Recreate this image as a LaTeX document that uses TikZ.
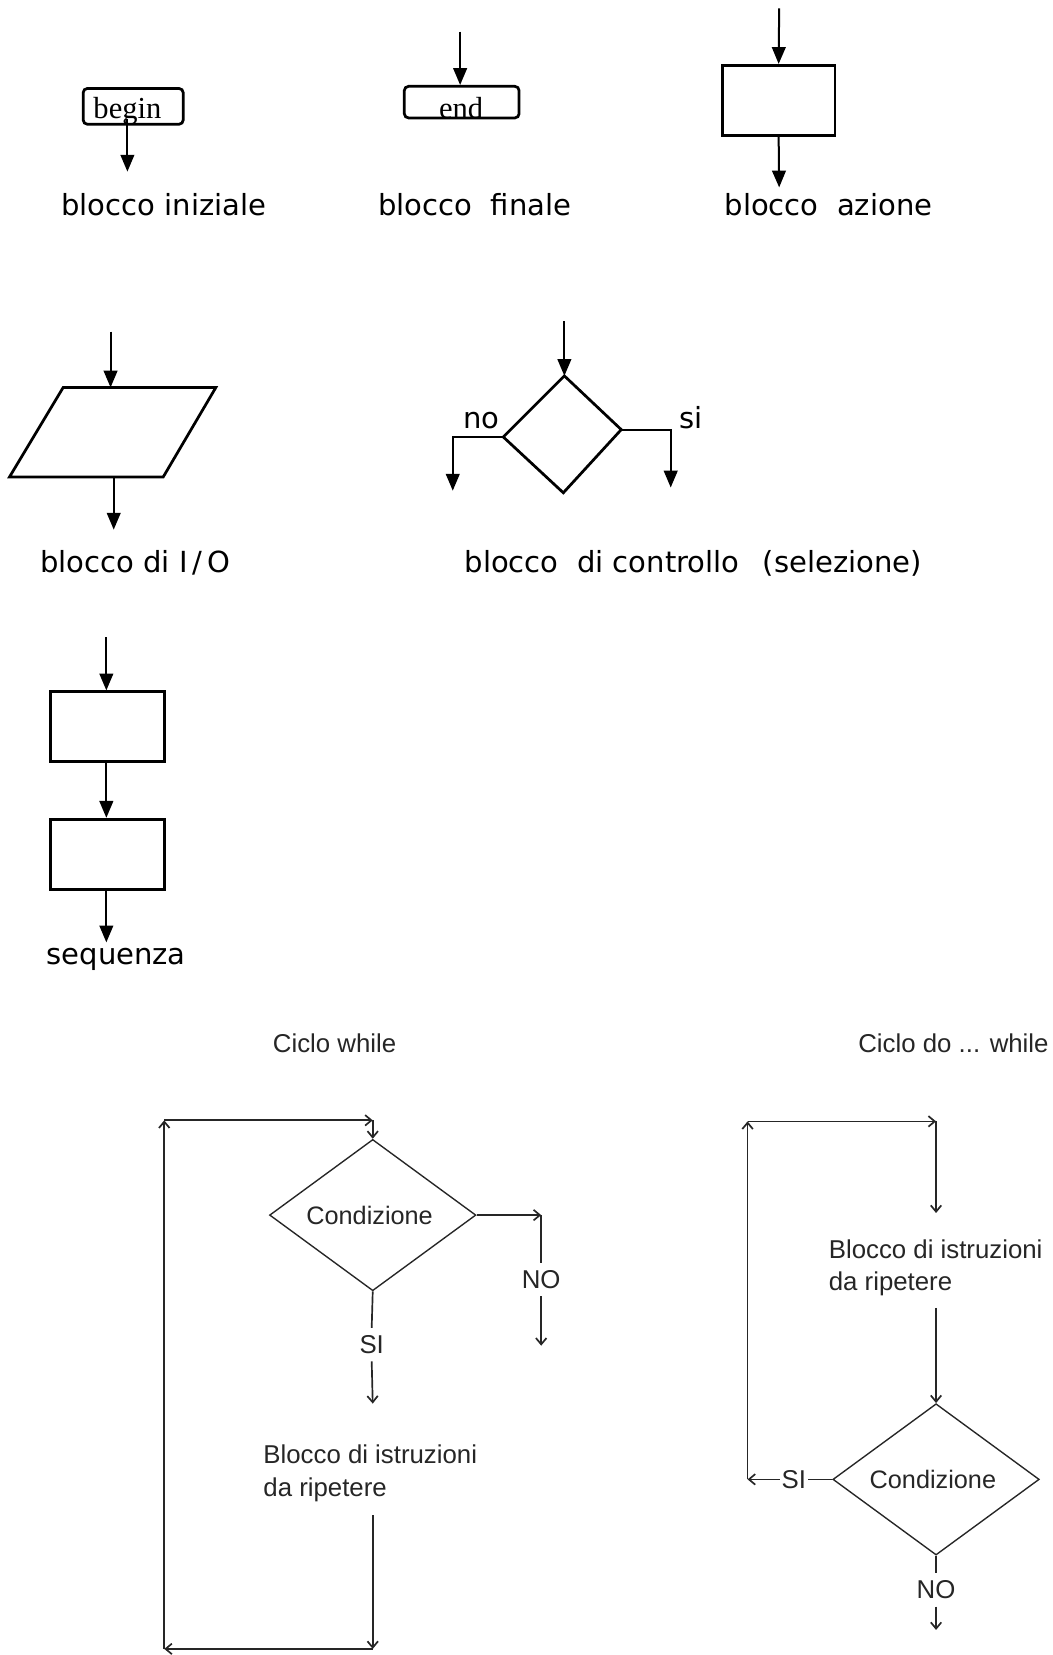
\documentclass[tikz,border=0pt]{standalone}
\usepackage{fontspec}
\usetikzlibrary{arrows.meta,shapes.geometric}
\newfontfamily\vfont{DejaVu Sans}
\newfontfamily\tfont{Liberation Serif}
\newfontfamily\mfont{Liberation Sans}
\begin{document}
\begin{tikzpicture}[x=1pt,y=-1pt,
  bigarr/.style={-{Triangle[width=13pt,length=16pt]},line width=1.9pt},
  thickline/.style={line width=2.6pt},
  actbox/.style={draw,line width=2.6pt,minimum width=107pt,minimum height=67pt,inner sep=0pt},
  lbl/.style={font=\vfont\fontsize{27.6}{32}\selectfont,inner sep=0pt,anchor=base west},
  tlbl/.style={font=\tfont\fontsize{29}{32}\selectfont,inner sep=0pt,anchor=base},
  gline/.style={line width=1.6pt,draw=black!85},
  sarr/.style={gline,-{Straight Barb[length=6pt,width=10pt]}},
  cond/.style={diamond,draw=black!85,line width=1.3pt,minimum width=196pt,minimum height=143pt,inner sep=0pt,
    font=\mfont\fontsize{24}{29}\selectfont,text=black!85},
  mtxt/.style={font=\mfont\fontsize{24.5}{31}\selectfont,text=black!85,inner sep=0pt},
  ynlbl/.style={mtxt,inner xsep=1.5pt,inner ysep=7pt}
]
\fill[white] (0,0) rectangle (1000,1568);

% ---------- blocco iniziale ----------
\node[draw,thickline,rounded corners=4pt,minimum width=95pt,minimum height=34pt,inner sep=0pt] (beginbox) at (126.5,101) {};
\node[tlbl] (begintxt) at (121,113) {begin};
\coordinate (beginout) at (121,163);
\draw[bigarr] (begintxt.base) -- (beginout);
\node[lbl] (l1) at (58,205) {blocco iniziale};

% ---------- blocco finale ----------
\node[draw,thickline,rounded corners=4pt,minimum width=109pt,minimum height=30pt,inner sep=0pt] (endbox) at (438.5,97) {};
\node[tlbl] (endtxt) at (438,113) {end};
\coordinate (endin) at (437,30);
\draw[bigarr] (endin) -- (endin |- endbox.north);
\node[lbl] (l2) at (359,205) {blocco\ \ finale};

% ---------- blocco azione ----------
\node[actbox] (act) at (739.5,95.5) {};
\coordinate (actin) at (740,8);
\coordinate (actout) at (740,178);
\draw[bigarr] (actin) -- (act.north);
\draw[bigarr] (act.south) -- (actout);
\node[lbl] (l3) at (688,205) {blocco\ \ azione};

% ---------- blocco I/O ----------
\coordinate (ioTL) at (60,368);
\coordinate (ioTR) at (205,368);
\coordinate (ioBR) at (155,453);
\coordinate (ioBL) at (9,453);
\draw[thickline,line join=miter] (ioTL) -- (ioTR) -- (ioBR) -- (ioBL) -- cycle;
\coordinate (ioin) at (105,315);
\coordinate (ioout) at (108,503);
\draw[bigarr] (ioin) -- (ioin |- ioTL);
\draw[bigarr] (ioout |- ioBL) -- (ioout);
\node[lbl] (l4) at (38,544) {blocco di I\,/\,O};

% ---------- blocco di controllo ----------
\coordinate (sT) at (536,357);
\coordinate (sL) at (478,415);
\coordinate (sR) at (590,408);
\coordinate (sB) at (535,468);
\draw[thickline,line join=miter] (sT) -- (sR) -- (sB) -- (sL) -- cycle;
\coordinate (selin) at (536,305);
\draw[bigarr] (selin) -- (sT);
\coordinate (noout) at (430,466);
\coordinate (siout) at (637,463);
\draw[bigarr] (sL) -| (noout);
\draw[bigarr] (sR) -| (siout);
\node[lbl] (nolbl) at (440,407) {no};
\node[lbl] (silbl) at (645,407) {si};
\node[lbl] (l5) at (441,544) {blocco\ \ di controllo\ \ \,(selezione)};

% ---------- sequenza ----------
\node[draw,line width=2.6pt,minimum width=108pt,minimum height=66pt,inner sep=0pt] (seq1) at (102,690) {};
\node[draw,line width=2.6pt,minimum width=108pt,minimum height=67pt,inner sep=0pt] (seq2) at (102,811.5) {};
\coordinate (seqin) at (101,605);
\coordinate (seqout) at (101,895);
\draw[bigarr] (seqin) -- (seqin |- seq1.north);
\draw[bigarr] (seqin |- seq1.south) -- (seqin |- seq2.north);
\draw[bigarr] (seqin |- seq2.south) -- (seqout);
\node[lbl] (l6) at (44,916) {sequenza};

% ---------- Ciclo while ----------
\node[mtxt,anchor=base west] (t1) at (259,1000) {Ciclo while};
\node[cond] (c1) at (354,1154) {Condizione\kern6pt};
\coordinate (noTop) at (514,1154);
\node[ynlbl] (no1) at (514,1215) {NO};
\coordinate (noEnd) at (514,1278);
\node[ynlbl] (si1) at (353,1277) {SI};
\coordinate (bodyIn) at (354,1333);
\node[mtxt,anchor=north west,align=left] (body1) at (250,1372) {Blocco di istruzioni\\da ripetere};
\coordinate (bodyOut) at (354,1439);
\coordinate (loopBR) at (354,1566);
\coordinate (loopBL) at (156,1566);
\coordinate (loopTL) at (156,1064);
\coordinate (loopTR) at (354,1064);
\draw[sarr] (c1.east) -- (noTop);
\draw[gline] (noTop) -- (no1.north);
\draw[sarr] (no1.south) -- (noEnd);
\draw[gline] (c1.south) -- (si1.north);
\draw[sarr] (si1.south) -- (bodyIn);
\draw[sarr] (bodyOut) -- (loopBR);
\draw[sarr] (loopBR) -- (loopBL);
\draw[sarr] (loopBL) -- (loopTL);
\draw[sarr] (loopTL) -- (loopTR);
\draw[sarr] (loopTR) -- (c1.north);

% ---------- Ciclo do ... while ----------
\node[mtxt,anchor=base west] (t2) at (815,1000) {Ciclo do ... while};
\coordinate (dTL) at (710,1065);
\coordinate (dTR) at (889,1065);
\coordinate (dIn) at (889,1152);
\node[mtxt,anchor=north west,align=left] (body2) at (787,1177) {Blocco di istruzioni\\da ripetere};
\coordinate (dOut) at (889,1242);
\node[cond] (c2) at (889,1405) {Condizione\kern6pt};
\node[ynlbl] (si2) at (754,1405) {SI};
\coordinate (dBL) at (710,1405);
\node[ynlbl] (no2) at (889,1510) {NO};
\coordinate (dEnd) at (889,1548);
\draw[sarr] (dTL) -- (dTR);
\draw[sarr] (dTR) -- (dIn);
\draw[sarr] (dOut) -- (c2.north);
\draw[gline] (c2.west) -- (si2.east);
\draw[sarr] (si2.west) -- (dBL);
\draw[sarr] (dBL) -- (dTL);
\draw[gline] (c2.south) -- (no2.north);
\draw[sarr] (no2.south) -- (dEnd);
\end{tikzpicture}
\end{document}
